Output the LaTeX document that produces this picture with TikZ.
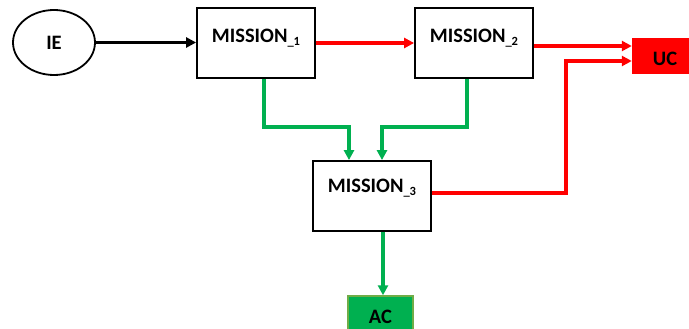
\documentclass[tikz,border=0pt]{standalone}
\usepackage{fontspec}
\setmainfont{Carlito}
\usetikzlibrary{arrows.meta,shapes.geometric,calc}
\definecolor{mgreen}{HTML}{00B050}
\definecolor{lgreen}{HTML}{70AD47}
\definecolor{mred}{HTML}{FF0000}
\newcommand{\msub}[1]{\raisebox{-0.35ex}{\fontsize{12.5}{12.5}\selectfont\_#1}}
\begin{document}
\begin{tikzpicture}[x=1pt,y=-1pt,
  txt/.style={font=\fontsize{20.5}{20.5}\selectfont\bfseries},
  mbox/.style={draw=black,line width=1.8pt,fill=white,minimum width=118pt,minimum height=70pt,inner sep=0pt},
  tip/.style={-{Triangle[length=10pt,width=10pt]}},
  blk/.style={draw=black,line width=3.4pt,tip},
  rd/.style={draw=mred,line width=3.4pt,tip},
  gr/.style={draw=mgreen,line width=3.4pt,tip}]
\useasboundingbox (0,0) rectangle (689,329);
\fill[white] (0,0) rectangle (689,329);
\node[draw=black,line width=1.8pt,ellipse,minimum width=82pt,minimum height=65pt,inner sep=0pt,txt] (ie) at (54,42.5) {IE};
\node[mbox,label={[txt,yshift=5pt]center:MISSION\msub{1}}] (m1) at (256,43) {};
\node[mbox,label={[txt,yshift=5pt]center:MISSION\msub{2}}] (m2) at (474,43) {};
\node[mbox,label={[txt,yshift=8pt]center:MISSION\msub{3}}] (m3) at (372,196) {};
\node[fill=mred,minimum width=66pt,minimum height=36pt,inner sep=0pt,label={[txt,yshift=-3pt]center:UC}] (uc) at (665,56) {};
\node[fill=mgreen,draw=lgreen,line width=1.4pt,minimum width=65pt,minimum height=42pt,inner sep=0pt,label={[txt]center:AC}] (ac) at (380.5,317) {};
\coordinate (u1) at ([yshift=10pt]uc.west);
\coordinate (u2) at ([yshift=-5pt]uc.west);
\coordinate (k) at (566,0);
\coordinate (a1) at (349,127);
\coordinate (a2) at (382,127);
\draw[blk] (ie.east) -- (ie.east -| m1.west);
\draw[rd] (m1.east) -- (m2.west);
\draw[rd] (m2.east |- u1) -- (u1);
\draw[rd] ([yshift=3pt]m3.east) -| (k |- u2) -- (u2);
\draw[gr] ([xshift=8pt]m1.south) |- (a1) -- (a1 |- m3.north);
\draw[gr] ([xshift=-7pt]m2.south) |- (a2) -- (a2 |- m3.north);
\draw[gr] ([xshift=11pt]m3.south) -- ([xshift=11pt]m3.south |- ac.north);
\end{tikzpicture}
\end{document}
